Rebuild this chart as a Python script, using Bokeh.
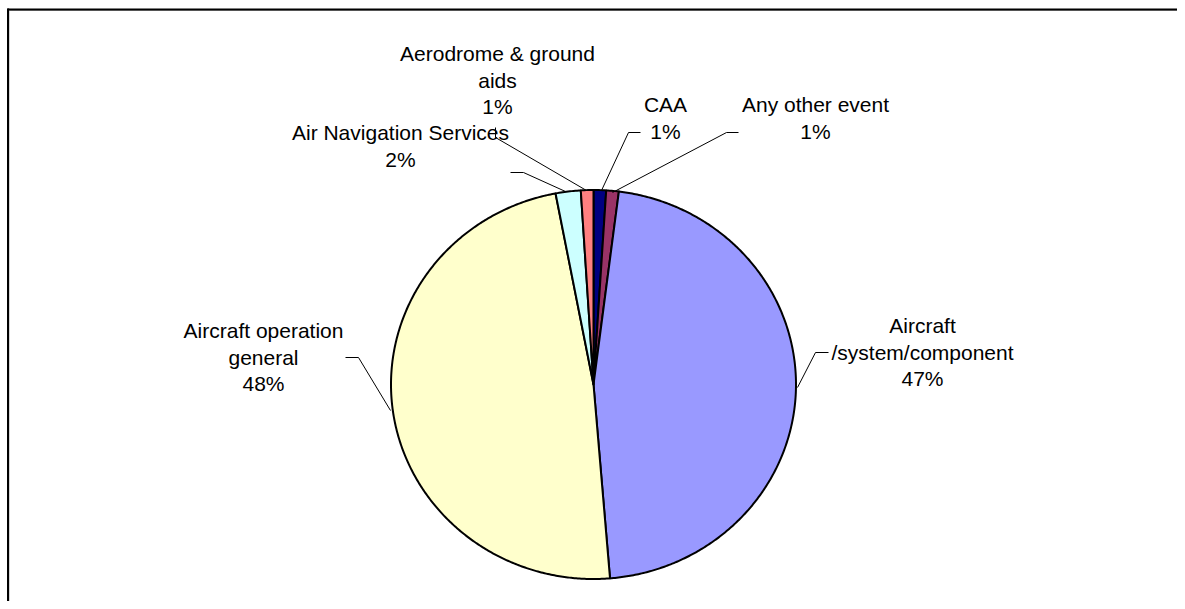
import numpy as np
from bokeh.plotting import figure
from bokeh.models import Range1d
from bokeh.core.properties import value
from bokeh.embed import file_html
from bokeh.resources import INLINE

# ---- data (clockwise from 12 o'clock) ----
categories = ["CAA", "Any other event", "Aircraft /system/component",
              "Aircraft operation general", "Air Navigation Services",
              "Aerodrome & ground aids"]
label_text = ["CAA", "Any other event", "Aircraft\n/system/component",
              "Aircraft operation\ngeneral", "Air Navigation Services",
              "Aerodrome & ground\naids"]
values = [1.0, 1.0, 46.7, 48.3, 2.0, 1.0]
colors = ["#000080", "#993366", "#9999FF", "#FFFFCC", "#CCFFFF", "#FF8080"]

# ---- layout / style (screen pixel coordinates) ----
W, H = 1177, 601
cx, cy, rx, ry = 593.0, 384.0, 202.5, 194.5
label_pos = [(665, 104), (815, 104), (922, 325), (263, 330), (400, 132), (497, 53)]
line_gap = 26.5
leaders = [
    [(640, 132), (628, 132), (601, 190)],
    [(738, 132), (726, 132), (612, 192)],
    [(828, 352), (815, 352), (797, 387)],
    [(345, 357), (358, 357), (390, 410)],
    [(510, 172), (523, 172), (565, 191)],
    [(495, 127), (495, 137), (586, 190)],
]

p = figure(width=W, height=H, output_backend="svg", toolbar_location=None,
           x_range=Range1d(0, W), y_range=Range1d(H, 0),
           min_border=0)
p.axis.visible = False
p.grid.visible = False
p.outline_line_color = None
p.background_fill_color = "white"
p.border_fill_color = "white"

# slices
total = float(sum(values))
cum = np.concatenate([[0.0], np.cumsum(values)]) / total * 2 * np.pi
xs, ys = [], []
for i in range(len(values)):
    t = np.linspace(cum[i], cum[i + 1], max(8, int((cum[i + 1] - cum[i]) * 120)))
    xs.append(np.concatenate([[cx], cx + rx * np.sin(t), [cx]]).tolist())
    ys.append(np.concatenate([[cy], cy - ry * np.cos(t), [cy]]).tolist())
p.patches(xs, ys, fill_color=colors, line_color="black", line_width=2,
          line_join="round")

# leader lines
p.multi_line([[a[0] for a in l] for l in leaders], [[a[1] for a in l] for l in leaders],
             line_color="black", line_width=1)

# labels
tx, ty, tt = [], [], []
for i, (lab, v) in enumerate(zip(label_text, values)):
    lines = lab.split("\n") + [f"{round(v)}%"]
    x0, y0 = label_pos[i]
    for j, ln in enumerate(lines):
        tx.append(x0)
        ty.append(y0 + j * line_gap)
        tt.append(ln)
p.text(x=tx, y=ty, text=tt, text_font=value("Liberation Sans"),
       text_font_size="21px", text_align="center", text_baseline="middle",
       text_color="black")

# chart area border (left and top visible)
p.segment(x0=[8.5, 7], y0=[8, 10], x1=[8.5, W], y1=[H, 10],
          line_color="#aaaaaa", line_width=1)
p.segment(x0=[7.5, 7], y0=[8, 9], x1=[7.5, W], y1=[H, 9],
          line_color="black", line_width=2)

open("out.html", "w").write(file_html(p, INLINE))
